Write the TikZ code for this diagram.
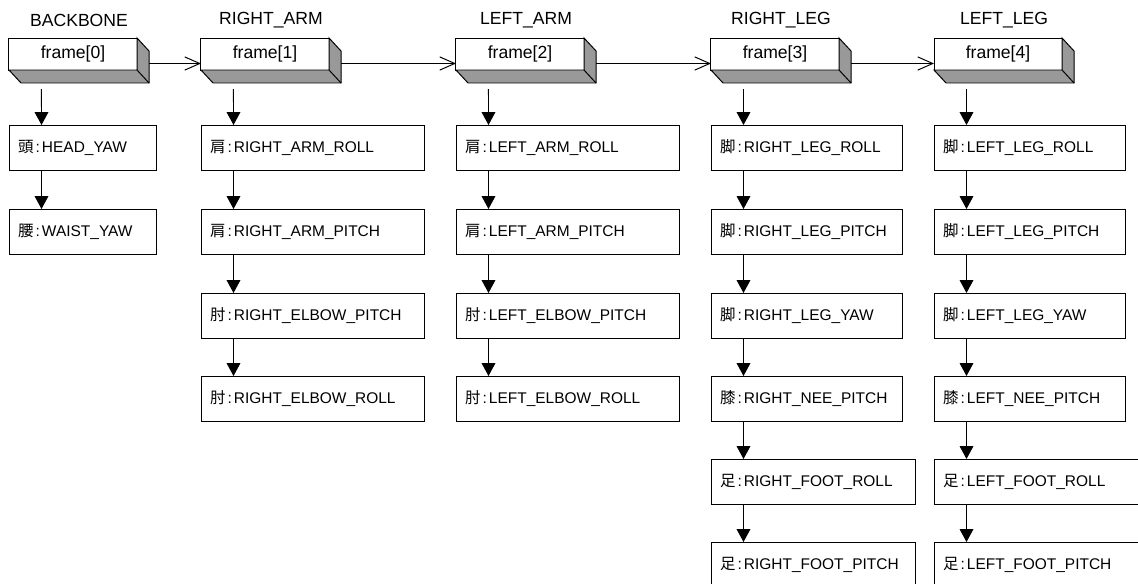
\documentclass[tikz,border=0pt]{standalone}
\usepackage{fontspec}
\setmainfont{Liberation Sans}
\newfontfamily\jpfont{Noto Sans CJK JP}
\usepackage{tikz}
\usetikzlibrary{arrows.meta,calc}
\definecolor{sidegray}{RGB}{153,153,153}
\newcommand{\jnt}[1]{{\jpfont #1}\kern1.5pt:\kern1.5pt}
\tikzset{
  wire/.style={black,line width=0.7pt},
  face/.style={wire,fill=sidegray,line join=miter},
  link/.style={wire,-{Straight Barb[length=0.375cm,width=0.33cm]}},
  chain/.style={wire,-{Triangle[length=0.32cm,width=0.34cm]}},
  framebox/.style={draw,wire,fill=white,minimum width=3.2cm,minimum height=0.8cm,
                   inner sep=0pt,outer sep=0pt,font=\fontsize{12.5}{14}\selectfont},
  joint/.style={draw,wire,anchor=west,minimum height=1.125cm,inner xsep=0.225cm,
                inner ysep=0pt,outer sep=0pt,align=left,font=\fontsize{11}{13}\selectfont},
  backjoint/.style={joint,text width=3.225cm},
  armjoint/.style={joint,text width=5.125cm},
  legjoint/.style={joint,text width=4.325cm},
  footjoint/.style={joint,text width=4.65cm},
  part/.style={font=\fontsize{12.5}{14}\selectfont},
}

\begin{document}
\begin{tikzpicture}[x=0.025cm,y=-0.025cm]
  \path[use as bounding box] (0,0) rectangle (1138,584);

  % part names
  \node[part] (T0) at (79,20) {BACKBONE};
  \node[part] (T1) at (271,20) {RIGHT\_ARM};
  \node[part] (T2) at (526,20) {LEFT\_ARM};
  \node[part] (T3) at (781,20) {RIGHT\_LEG};
  \node[part] (T4) at (1004,20) {LEFT\_LEG};

  % frames
  \node[framebox] (F0) at (73,54) {frame[0]};
  \node[framebox] (F1) at (265,54) {frame[1]};
  \node[framebox] (F2) at (520,54) {frame[2]};
  \node[framebox] (F3) at (775,54) {frame[3]};
  \node[framebox] (F4) at (998,54) {frame[4]};
  \foreach \f in {F0,F1,F2,F3,F4}{
    \draw[face] (\f.north east) -- ++(12,13) -- ++(0,32) -- ++(-128,0)
      -- (\f.south west) -- (\f.south east) -- cycle;
    \draw[wire] (\f.south east) -- ++(12,13);
  }
  \draw[link] ($(F0.south east)+(12,-6.5)$) -- ($(F1.south west)+(0,-6.5)$);
  \draw[link] ($(F1.south east)+(12,-6.5)$) -- ($(F2.south west)+(0,-6.5)$);
  \draw[link] ($(F2.south east)+(12,-6.5)$) -- ($(F3.south west)+(0,-6.5)$);
  \draw[link] ($(F3.south east)+(12,-6.5)$) -- ($(F4.south west)+(0,-6.5)$);

  % BACKBONE
  \node[backjoint] (B1) at (9,147.5) {\jnt{頭}HEAD\_YAW};
  \node[backjoint] (B2) at (9,231.5) {\jnt{腰}WAIST\_YAW};

  % RIGHT_ARM
  \node[armjoint] (RA1) at (201,147.5) {\jnt{肩}RIGHT\_ARM\_ROLL};
  \node[armjoint] (RA2) at (201,231.5) {\jnt{肩}RIGHT\_ARM\_PITCH};
  \node[armjoint] (RA3) at (201,315.5) {\jnt{肘}RIGHT\_ELBOW\_PITCH};
  \node[armjoint] (RA4) at (201,398.5) {\jnt{肘}RIGHT\_ELBOW\_ROLL};

  % LEFT_ARM
  \node[armjoint] (LA1) at (456,147.5) {\jnt{肩}LEFT\_ARM\_ROLL};
  \node[armjoint] (LA2) at (456,231.5) {\jnt{肩}LEFT\_ARM\_PITCH};
  \node[armjoint] (LA3) at (456,315.5) {\jnt{肘}LEFT\_ELBOW\_PITCH};
  \node[armjoint] (LA4) at (456,398.5) {\jnt{肘}LEFT\_ELBOW\_ROLL};

  % RIGHT_LEG
  \node[legjoint] (RL1) at (711,147.5) {\jnt{脚}RIGHT\_LEG\_ROLL};
  \node[legjoint] (RL2) at (711,231.5) {\jnt{脚}RIGHT\_LEG\_PITCH};
  \node[legjoint] (RL3) at (711,315.5) {\jnt{脚}RIGHT\_LEG\_YAW};
  \node[legjoint] (RL4) at (711,398.5) {\jnt{膝}RIGHT\_NEE\_PITCH};
  \node[footjoint] (RL5) at (711,481.5) {\jnt{足}RIGHT\_FOOT\_ROLL};
  \node[footjoint] (RL6) at (711,564.5) {\jnt{足}RIGHT\_FOOT\_PITCH};

  % LEFT_LEG
  \node[legjoint] (LL1) at (934,147.5) {\jnt{脚}LEFT\_LEG\_ROLL};
  \node[legjoint] (LL2) at (934,231.5) {\jnt{脚}LEFT\_LEG\_PITCH};
  \node[legjoint] (LL3) at (934,315.5) {\jnt{脚}LEFT\_LEG\_YAW};
  \node[legjoint] (LL4) at (934,398.5) {\jnt{膝}LEFT\_NEE\_PITCH};
  \node[footjoint] (LL5) at (934,481.5) {\jnt{足}LEFT\_FOOT\_ROLL};
  \node[footjoint] (LL6) at (934,564.5) {\jnt{足}LEFT\_FOOT\_PITCH};

  % frame to first joint
  \draw[chain] ($(F0.south west)+(32.5,19)$) -- ($(B1.north west)+(32.5,0)$);
  \draw[chain] ($(F1.south west)+(32.5,19)$) -- ($(RA1.north west)+(32.5,0)$);
  \draw[chain] ($(F2.south west)+(32.5,19)$) -- ($(LA1.north west)+(32.5,0)$);
  \draw[chain] ($(F3.south west)+(32.5,19)$) -- ($(RL1.north west)+(32.5,0)$);
  \draw[chain] ($(F4.south west)+(32.5,19)$) -- ($(LL1.north west)+(32.5,0)$);

  % joint to joint
  \draw[chain] ($(B1.south west)+(32.5,0)$) -- ($(B2.north west)+(32.5,0)$);
  \draw[chain] ($(RA1.south west)+(32.5,0)$) -- ($(RA2.north west)+(32.5,0)$);
  \draw[chain] ($(RA2.south west)+(32.5,0)$) -- ($(RA3.north west)+(32.5,0)$);
  \draw[chain] ($(RA3.south west)+(32.5,0)$) -- ($(RA4.north west)+(32.5,0)$);
  \draw[chain] ($(LA1.south west)+(32.5,0)$) -- ($(LA2.north west)+(32.5,0)$);
  \draw[chain] ($(LA2.south west)+(32.5,0)$) -- ($(LA3.north west)+(32.5,0)$);
  \draw[chain] ($(LA3.south west)+(32.5,0)$) -- ($(LA4.north west)+(32.5,0)$);
  \draw[chain] ($(RL1.south west)+(32.5,0)$) -- ($(RL2.north west)+(32.5,0)$);
  \draw[chain] ($(RL2.south west)+(32.5,0)$) -- ($(RL3.north west)+(32.5,0)$);
  \draw[chain] ($(RL3.south west)+(32.5,0)$) -- ($(RL4.north west)+(32.5,0)$);
  \draw[chain] ($(RL4.south west)+(32.5,0)$) -- ($(RL5.north west)+(32.5,0)$);
  \draw[chain] ($(RL5.south west)+(32.5,0)$) -- ($(RL6.north west)+(32.5,0)$);
  \draw[chain] ($(LL1.south west)+(32.5,0)$) -- ($(LL2.north west)+(32.5,0)$);
  \draw[chain] ($(LL2.south west)+(32.5,0)$) -- ($(LL3.north west)+(32.5,0)$);
  \draw[chain] ($(LL3.south west)+(32.5,0)$) -- ($(LL4.north west)+(32.5,0)$);
  \draw[chain] ($(LL4.south west)+(32.5,0)$) -- ($(LL5.north west)+(32.5,0)$);
  \draw[chain] ($(LL5.south west)+(32.5,0)$) -- ($(LL6.north west)+(32.5,0)$);
\end{tikzpicture}
\end{document}
